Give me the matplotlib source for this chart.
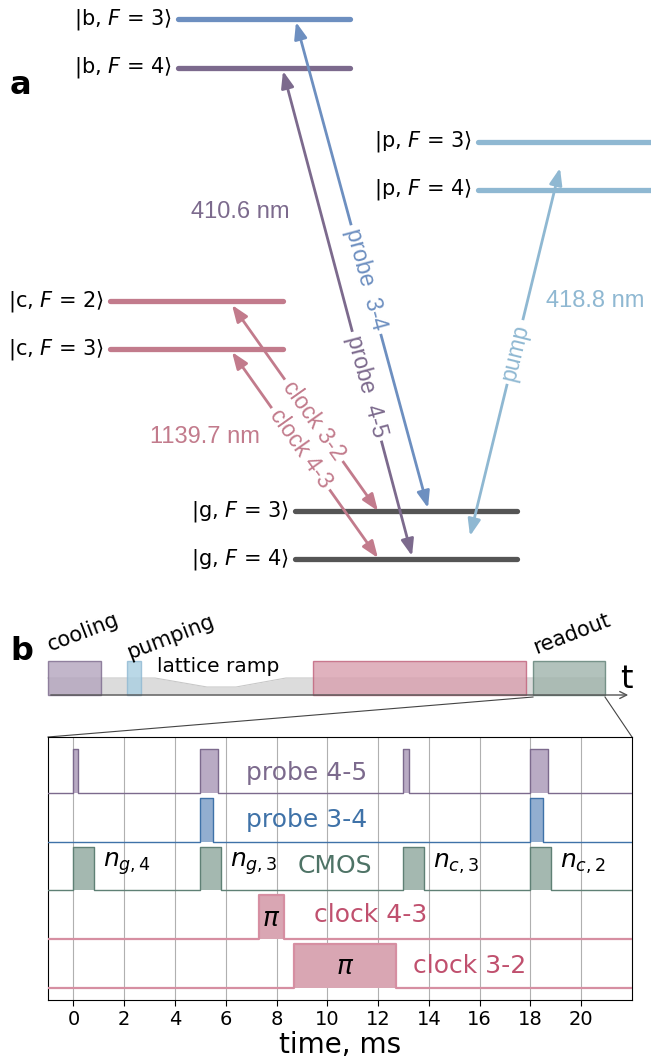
import matplotlib.pyplot as plt
import numpy as np

# ---------------- panel a: hyperfine levels ----------------
level_labels = [r'|b, $F$ = 3$\rangle$', r'|b, $F$ = 4$\rangle$',
                r'|p, $F$ = 3$\rangle$', r'|p, $F$ = 4$\rangle$',
                r'|c, $F$ = 2$\rangle$', r'|c, $F$ = 3$\rangle$',
                r'|g, $F$ = 3$\rangle$', r'|g, $F$ = 4$\rangle$']
level_y = [19, 68, 142, 190, 301, 349, 511, 559]
level_x0 = [178, 178, 478, 478, 110, 110, 295, 295]
level_x1 = [350, 350, 651, 651, 283, 283, 517, 517]
level_colors = ['#6d8fc0', '#7c6a8d', '#8fb8d2', '#8fb8d2',
                '#c27b8c', '#c27b8c', '#555555', '#555555']

# transitions: upper end, lower end, label, label position along arrow
trans_labels = ['probe  3-4', 'probe  4-5', 'clock 3-2', 'clock 4-3', 'pump']
trans_top = [(296, 22), (283, 71), (232, 305), (232, 352), (560, 168)]
trans_bot = [(428, 508), (412, 556), (378, 511), (378, 558), (470, 536)]
trans_frac = [0.53, 0.65, 0.56, 0.47, 0.5]
trans_colors = ['#6d8fc0', '#7c6a8d', '#c27b8c', '#c27b8c', '#8fb8d2']

wl_labels = ['410.6 nm', '1139.7 nm', '418.8 nm']
wl_pos = [(240, 212), (205, 437), (595, 301)]
wl_colors = ['#7c6a8d', '#c27b8c', '#8fb8d2']

# ---------------- panel b: sequence ----------------
probe45 = [(0.0, 0.2), (5.0, 5.7), (13.0, 13.2), (18.0, 18.7)]
probe34 = [(5.0, 5.5), (18.0, 18.5)]
cmos = [(0.0, 0.8), (5.0, 5.8), (13.0, 13.8), (18.0, 18.8)]
clock43 = [(7.3, 8.3)]
clock32 = [(8.7, 12.7)]
n_labels = [r'$n_{g,4}$', r'$n_{g,3}$', r'$n_{c,3}$', r'$n_{c,2}$']
time_ticks = list(range(0, 21, 2))

fig = plt.figure(figsize=(6.51, 10.63), dpi=100)
ax = fig.add_axes([0, 0, 1, 1])
ax.set_xlim(0, 651)
ax.set_ylim(1063, 0)
ax.axis('off')

ax.text(10, 85, 'a', fontsize=23, fontweight='bold', va='center')
ax.text(10, 652, 'b', fontsize=23, fontweight='bold', va='center')

for lab, y, x0, x1, c in zip(level_labels, level_y, level_x0, level_x1, level_colors):
    ax.plot([x0, x1], [y, y], color=c, lw=3.8, solid_capstyle='round', zorder=2)
    ax.text(x0 - 6, y, lab, fontsize=15, ha='right', va='center')

for lab, top, bot, f, c in zip(trans_labels, trans_top, trans_bot, trans_frac, trans_colors):
    ax.annotate('', xy=top, xytext=bot, zorder=3,
                arrowprops=dict(arrowstyle='<|-|>,head_length=1.0,head_width=0.38',
                                color=c, lw=2.0, shrinkA=0, shrinkB=0))
    cx = top[0] + f * (bot[0] - top[0])
    cy = top[1] + f * (bot[1] - top[1])
    ang = np.degrees(np.arctan2(-(bot[1] - top[1]), bot[0] - top[0]))
    if lab == 'pump':
        ang += 180
    ax.text(cx, cy, lab, color=c, fontsize=16.5, family='Liberation Sans',
            rotation=ang, rotation_mode='anchor', ha='center', va='center', zorder=4,
            bbox=dict(facecolor='white', edgecolor='none', pad=3))

for lab, p, c in zip(wl_labels, wl_pos, wl_colors):
    ax.text(p[0], p[1], lab, color=c, fontsize=17, family='Liberation Sans',
            ha='center', va='center')

# overview strip of the sequence
band_x = [48, 155, 207, 236, 286, 605]
band_top = [678, 678, 687, 687, 678, 678]
ax.fill_between(band_x, band_top, 695, color='#dcdcdc', lw=0)
ax.plot(band_x, band_top, color='#c8c8c8', lw=0.8)
stages = [(48, 101, '#b3a4bd', '#7c6a8d'), (127, 141, '#a9cfe2', '#8fb8d2'),
          (313, 526, '#d99fae', '#c0607a'), (533, 605, '#9fb3ab', '#5f8075')]
for x0, x1, fc, ec in stages:
    ax.add_patch(plt.Rectangle((x0, 661), x1 - x0, 34, facecolor=fc, edgecolor=ec,
                               lw=1, alpha=0.8, zorder=3))
ax.annotate('', xy=(631, 695), xytext=(48, 695),
            arrowprops=dict(arrowstyle='->,head_length=0.5,head_width=0.25',
                            color='#555555', lw=1))
ax.text(626, 680, 't', fontsize=23, ha='center', va='center')
ax.text(52, 655, 'cooling', fontsize=15, rotation=21, rotation_mode='anchor',
        ha='left', va='bottom')
ax.text(131, 663, 'pumping', fontsize=15, rotation=21, rotation_mode='anchor',
        ha='left', va='bottom')
ax.text(538, 658, 'readout', fontsize=15, rotation=21, rotation_mode='anchor',
        ha='left', va='bottom')
ax.text(218, 667, 'lattice ramp', fontsize=14.5, ha='center', va='center')
ax.plot([533, 48], [697, 737], color='#444444', lw=0.8)
ax.plot([605, 632], [697, 737], color='#444444', lw=0.8)

# detailed timing
bx = fig.add_axes([48 / 651, 63 / 1063, 584 / 651, 263 / 1063])
bx.set_xlim(-1, 22)
bx.set_ylim(-0.25, 5.15)
H = 0.9

rows = [(4, probe45, '#b9abc4', '#7c6a8d', 1.0, 'probe 4-5', 9.2, 0.42),
        (3, probe34, '#92aed0', '#3f72a8', 1.0, 'probe 3-4', 9.2, 0.45),
        (2, cmos, '#a4b8b0', '#5f8075', 1.0, 'CMOS', 10.3, 0.5),
        (1, clock43, '#d9a6b3', '#d68fa2', 1.6, 'clock 4-3', 11.7, 0.5),
        (0, clock32, '#d9a6b3', '#d68fa2', 1.6, 'clock 3-2', 15.6, 0.44)]
text_colors = ['#7c6a8d', '#3f72a8', '#4e7366', '#c0506e', '#c0506e']

for (base, pulses, fc, ec, lw, lab, tx, ty), tc in zip(rows, text_colors):
    xs, ys = [-1], [0]
    for s, e in pulses:
        xs += [s, s, e, e]
        ys += [0, H, H, 0]
        bx.fill_between([s, e], base, base + H, color=fc, lw=0, zorder=2)
    xs.append(22)
    ys.append(0)
    bx.plot(xs, base + np.array(ys), color=ec, lw=lw, zorder=3)
    bx.text(tx, base + ty, lab, color=tc, fontsize=18, ha='center', va='center')

for (s, e), lab in zip(cmos, n_labels):
    bx.text(e + 0.35, 2 + 0.55, lab, fontsize=18, ha='left', va='center')
for s, e in clock43:
    bx.text((s + e) / 2, 1 + 0.42, r'$\pi$', fontsize=19, ha='center', va='center', zorder=4)
for s, e in clock32:
    bx.text((s + e) / 2, 0 + 0.42, r'$\pi$', fontsize=19, ha='center', va='center', zorder=4)

bx.set_xticks(time_ticks)
bx.set_yticks([])
bx.tick_params(axis='x', labelsize=14, length=4)
bx.grid(axis='x', color='#b0b0b0', lw=0.8)
bx.set_axisbelow(True)
bx.set_xlabel('time, ms', fontsize=20, labelpad=1)

fig.savefig('out.png', dpi=100)
